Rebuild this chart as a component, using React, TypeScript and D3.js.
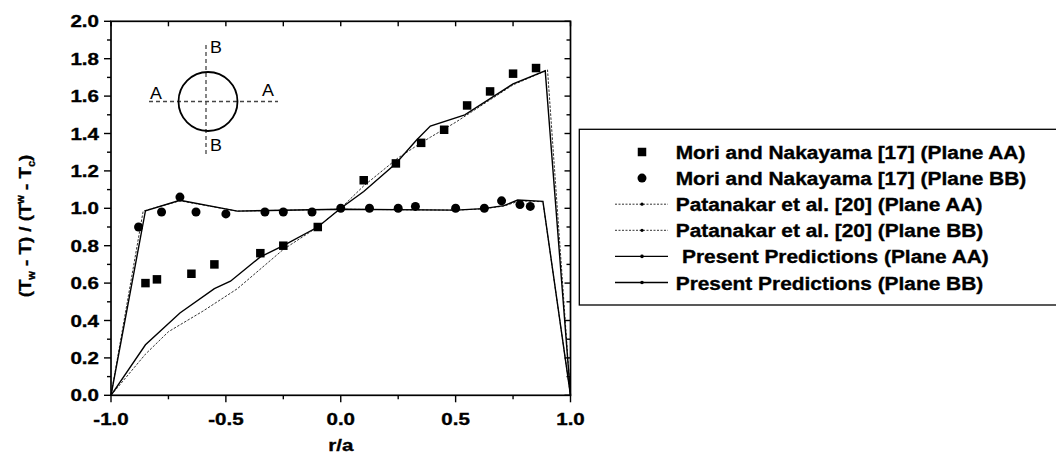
import React from "react";
import * as d3 from "d3";

// ---- data ----
const moriAA_x = [-0.85, -0.8, -0.65, -0.55, -0.35, -0.25, -0.1, 0.1, 0.24, 0.35, 0.45, 0.55, 0.65, 0.75, 0.85];
const moriAA_y = [0.6, 0.62, 0.65, 0.7, 0.76, 0.8, 0.9, 1.15, 1.24, 1.35, 1.42, 1.55, 1.625, 1.72, 1.75];

const moriBB_x = [-0.88, -0.78, -0.7, -0.63, -0.5, -0.33, -0.25, -0.125, 0.0, 0.125, 0.25, 0.325, 0.5, 0.625, 0.7, 0.78, 0.825];
const moriBB_y = [0.9, 0.98, 1.06, 0.98, 0.97, 0.98, 0.98, 0.98, 1.0, 1.0, 1.0, 1.01, 1.0, 1.0, 1.04, 1.02, 1.01];

const patAA_x = [-1, -0.85, -0.75, -0.6, -0.45, -0.25, -0.1, 0, 0.1, 0.25, 0.35, 0.39, 0.5, 0.55, 0.75, 0.9, 1.0];
const patAA_y = [0, 0.22, 0.34, 0.45, 0.57, 0.78, 0.9, 1.0, 1.12, 1.27, 1.35, 1.38, 1.46, 1.5, 1.66, 1.74, 0];

const patBB_x = [-1, -0.86, -0.7, -0.45, 0, 0.5, 0.62, 0.71, 0.78, 0.88, 1.0];
const patBB_y = [0, 0.985, 1.04, 0.985, 0.995, 0.99, 0.997, 1.012, 1.04, 1.035, 0];

const presAA_x = [-1, -0.85, -0.7, -0.55, -0.48, -0.35, -0.25, -0.1, 0, 0.1, 0.24, 0.33, 0.39, 0.54, 0.75, 0.89, 1.0];
const presAA_y = [0, 0.27, 0.44, 0.57, 0.61, 0.74, 0.8, 0.9, 1.0, 1.09, 1.24, 1.365, 1.44, 1.5, 1.665, 1.735, 0];

const presBB_x = [-1, -0.85, -0.7, -0.45, 0, 0.5, 0.62, 0.71, 0.77, 0.88, 1.0];
const presBB_y = [0, 0.987, 1.043, 0.985, 0.995, 0.99, 0.998, 1.014, 1.044, 1.037, 0];

const xTickLabels = ["-1.0", "-0.5", "0.0", "0.5", "1.0"];
const yTickLabels = ["0.0", "0.2", "0.4", "0.6", "0.8", "1.0", "1.2", "1.4", "1.6", "1.8", "2.0"];

const legendLabels = [
  "Mori and Nakayama [17] (Plane AA)",
  "Mori and Nakayama [17] (Plane BB)",
  "Patanakar et al. [20] (Plane AA)",
  "Patanakar et al. [20] (Plane BB)",
  "Present Predictions (Plane AA)",
  "Present Predictions (Plane BB)",
];

const FONT = "'Liberation Sans', Arial, Helvetica, sans-serif";

const zip = (xs: number[], ys: number[]) => xs.map((x, i) => [x, ys[i]] as [number, number]);

function SText(props: any) {
  const { x, y, sx = 1.21, anchor = "start", size = 17, weight = "bold", children } = props;
  const bold = weight === "bold";
  return (
    <text
      transform={`translate(${x},${y}) scale(${sx},1)`}
      textAnchor={anchor}
      fontSize={size}
      fontWeight={weight}
      fontFamily={FONT}
      fill="#000"
      stroke={bold ? "#000" : "none"}
      strokeWidth={bold ? 0.35 : 0}
      style={{ whiteSpace: "pre" }}
    >
      {children}
    </text>
  );
}

export default function App() {
  const x = d3.scaleLinear().domain([-1, 1]).range([111, 570.5]);
  const y = d3.scaleLinear().domain([0, 2]).range([395.3, 21.3]);
  const line = d3
    .line<[number, number]>()
    .x((d) => x(d[0]))
    .y((d) => y(d[1]));

  const xMinor = d3.range(-1, 1.0001, 0.25);
  const yMinor = d3.range(0, 2.0001, 0.1);
  const isMajorX = (v: number) => Math.abs(v * 2 - Math.round(v * 2)) < 1e-6;
  const isMajorY = (v: number) => Math.abs(v * 5 - Math.round(v * 5)) < 1e-6;

  const [x0, x1] = x.range();
  const [y0, y1] = y.range();

  const sq = 8.5;
  const cr = 4.5;

  const legX = 579.3;
  const legY = 129.3;
  const legRowY = (i: number) => 152 + i * 26.1;
  const sampleX0 = 615;
  const sampleX1 = 668;
  const markX = 642;

  // inset geometry (decorative schematic)
  const cx = 208, cy = 101.5, r = 29.5;

  return (
    <svg
      width={1056}
      height={456}
      style={{ position: "absolute", left: 0, top: 0, background: "#fff" }}
    >
      <rect x={0} y={0} width={1056} height={456} fill="#fff" />

      {/* curves */}
      <path d={line(zip(patAA_x, patAA_y)) || ""} fill="none" stroke="#333" strokeWidth={1} strokeDasharray="2.5,1.5" />
      <path d={line(zip(patBB_x, patBB_y)) || ""} fill="none" stroke="#333" strokeWidth={1} strokeDasharray="2.5,1.5" />
      <path d={line(zip(presAA_x, presAA_y)) || ""} fill="none" stroke="#000" strokeWidth={1.4} />
      <path d={line(zip(presBB_x, presBB_y)) || ""} fill="none" stroke="#000" strokeWidth={1.4} />

      {/* markers */}
      {zip(moriAA_x, moriAA_y).map((d, i) => (
        <rect key={"s" + i} x={x(d[0]) - sq / 2} y={y(d[1]) - sq / 2} width={sq} height={sq} fill="#000" />
      ))}
      {zip(moriBB_x, moriBB_y).map((d, i) => (
        <circle key={"c" + i} cx={x(d[0])} cy={y(d[1])} r={cr} fill="#000" />
      ))}

      {/* frame */}
      <rect x={x0} y={y1} width={x1 - x0} height={y0 - y1} fill="none" stroke="#000" strokeWidth={1.7} />

      {/* x ticks */}
      {xMinor.map((v, i) => {
        const len = isMajorX(v) ? 7 : 4;
        return (
          <g key={"xt" + i}>
            <line x1={x(v)} x2={x(v)} y1={y0} y2={y0 + len} stroke="#000" strokeWidth={1.4} />
            <line x1={x(v)} x2={x(v)} y1={y1} y2={y1 + 5} stroke="#000" strokeWidth={1.4} />
          </g>
        );
      })}
      {/* y ticks */}
      {yMinor.map((v, i) => {
        const len = isMajorY(v) ? 7 : 4;
        return (
          <g key={"yt" + i}>
            <line x1={x0} x2={x0 - len} y1={y(v)} y2={y(v)} stroke="#000" strokeWidth={1.4} />
            <line x1={x1} x2={x1 - (isMajorY(v) ? 6 : 4)} y1={y(v)} y2={y(v)} stroke="#000" strokeWidth={1.4} />
          </g>
        );
      })}

      {/* tick labels */}
      {xTickLabels.map((t, i) => (
        <SText key={"xl" + i} x={x(+t)} y={425} anchor="middle">{t}</SText>
      ))}
      {yTickLabels.map((t, i) => (
        <SText key={"yl" + i} x={99} y={y(+t) + 6} anchor="end">{t}</SText>
      ))}

      {/* axis titles */}
      <SText x={x(0)} y={451} anchor="middle">r/a</SText>
      <text
        transform={`translate(31,226) rotate(-90) scale(1.1,1)`}
        textAnchor="middle"
        fontSize={17}
        fontWeight="bold"
        fontFamily={FONT}
        stroke="#000"
        strokeWidth={0.35}
        style={{ whiteSpace: "pre" }}
      >
        (T<tspan dy={4} fontSize={10}>w</tspan>
        <tspan dy={-4}> - T) / (T</tspan>
        <tspan dy={-7} fontSize={10}>w</tspan>
        <tspan dy={7}> - T</tspan>
        <tspan dy={4} fontSize={10}>c</tspan>
        <tspan dy={-4}>)</tspan>
      </text>

      {/* inset schematic */}
      <line x1={149} x2={278} y1={cy} y2={cy} stroke="#444" strokeWidth={1.3} strokeDasharray="4,3" />
      <line x1={206} x2={206} y1={45} y2={157} stroke="#444" strokeWidth={1.3} strokeDasharray="4,3" />
      <circle cx={cx} cy={cy} r={r} fill="none" stroke="#000" strokeWidth={1.8} />
      <SText x={156} y={98.5} anchor="middle" sx={1.05} size={17} weight="normal">A</SText>
      <SText x={268} y={96} anchor="middle" sx={1.05} size={17} weight="normal">A</SText>
      <SText x={216} y={53} anchor="middle" sx={1.05} size={17} weight="normal">B</SText>
      <SText x={216} y={151} anchor="middle" sx={1.05} size={17} weight="normal">B</SText>

      {/* legend */}
      <rect x={legX} y={legY} width={1056 - legX + 10} height={305 - legY} fill="#fff" stroke="#000" strokeWidth={1.3} />
      <rect x={markX - 4.25} y={legRowY(0) - 4.25} width={8.5} height={8.5} fill="#000" />
      <circle cx={markX} cy={legRowY(1)} r={4.5} fill="#000" />
      {[2, 3].map((i) => (
        <g key={"lp" + i}>
          <line x1={sampleX0} x2={sampleX1} y1={legRowY(i)} y2={legRowY(i)} stroke="#333" strokeWidth={1} strokeDasharray="2,1.5" />
          <circle cx={markX} cy={legRowY(i)} r={1.6} fill="#000" />
        </g>
      ))}
      {[4, 5].map((i) => (
        <g key={"lp" + i}>
          <line x1={sampleX0} x2={sampleX1} y1={legRowY(i)} y2={legRowY(i)} stroke="#000" strokeWidth={1.4} />
          <circle cx={markX} cy={legRowY(i)} r={1.8} fill="#000" />
        </g>
      ))}
      {legendLabels.map((t, i) => (
        <SText key={"lg" + i} x={i === 4 ? 682 : 675.7} y={legRowY(i) + 7} sx={1.13} size={18.5}>
          {t}
        </SText>
      ))}
    </svg>
  );
}
